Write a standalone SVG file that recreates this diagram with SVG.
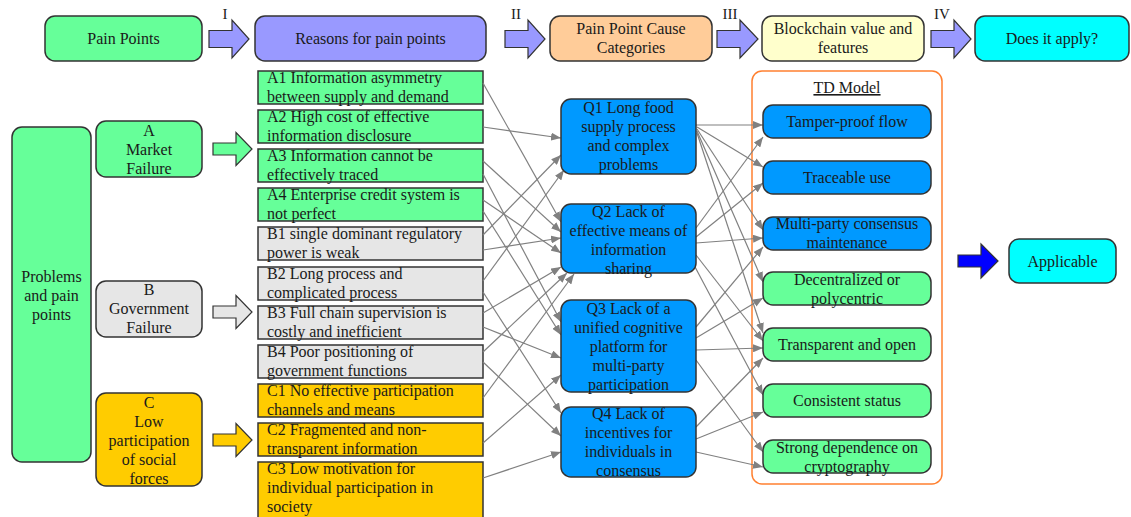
<svg xmlns="http://www.w3.org/2000/svg" width="1131" height="517" viewBox="0 0 1131 517">
<style>
text{font-family:"Liberation Serif","Times New Roman",serif;font-size:16px;fill:#1a1a1a}
.c{text-anchor:middle}
.lbl{font-size:15px}
.box{stroke:#333;stroke-width:1.5}
.g{fill:#66FF99}.gr{fill:#E6E6E6}.y{fill:#FFCC00}.bl{fill:#0099FF}
.fat{stroke:#333;stroke-width:1.2}
.conn path{stroke:#808080;stroke-width:1.2;fill:none;marker-end:url(#ah)}
</style>
<defs>
<marker id="ah" markerWidth="10" markerHeight="8" refX="10" refY="4" orient="auto" markerUnits="userSpaceOnUse"><path d="M0,0 L10,4 L0,8 z" fill="#808080"/></marker>
</defs>
<rect width="1131" height="517" fill="#fff"/>

<!-- top row -->
<g id="top-pain"><rect class="box g" x="45" y="16" width="157" height="45" rx="10"/><text class="c" x="123.5" y="44">Pain Points</text></g>
<g id="arrow-I"><polygon class="fat" fill="#9999FF" points="209,30.5 232,30.5 232,20 249,39 232,58 232,47.5 209,47.5"/><text class="c lbl" x="225" y="19">I</text></g>
<g id="top-reasons"><rect class="box" fill="#9999FF" x="255" y="16" width="231" height="45" rx="10"/><text class="c" x="370.5" y="44">Reasons for pain points</text></g>
<g id="arrow-II"><polygon class="fat" fill="#9999FF" points="505,30.5 528,30.5 528,20 545,39 528,58 528,47.5 505,47.5"/><text class="c lbl" x="516" y="19">II</text></g>
<g id="top-cause"><rect class="box" fill="#FFCC99" x="550" y="16" width="162" height="45" rx="10"/><text class="c" x="631" y="34">Pain Point Cause</text><text class="c" x="631" y="53">Categories</text></g>
<g id="arrow-III"><polygon class="fat" fill="#9999FF" points="717,30.5 740,30.5 740,20 758,39 740,58 740,47.5 717,47.5"/><text class="c lbl" x="730" y="19">III</text></g>
<g id="top-blockchain"><rect class="box" fill="#FFFFCC" x="762" y="16" width="162" height="45" rx="10"/><text class="c" x="843" y="34">Blockchain value and</text><text class="c" x="843" y="53">features</text></g>
<g id="arrow-IV"><polygon class="fat" fill="#9999FF" points="931,30.5 954,30.5 954,20 971,39 954,58 954,47.5 931,47.5"/><text class="c lbl" x="942" y="19">IV</text></g>
<g id="top-apply"><rect class="box" fill="#00FFFF" x="975" y="16" width="154" height="45" rx="10"/><text class="c" x="1052" y="44">Does it apply?</text></g>

<!-- left -->
<g id="problems"><rect class="box g" x="12" y="127" width="79" height="335" rx="10"/><text class="c" x="51.5" y="282">Problems</text><text class="c" x="51.5" y="301">and pain</text><text class="c" x="51.5" y="320">points</text></g>
<g id="A"><rect class="box g" x="96" y="121" width="106" height="56" rx="10"/><text class="c" x="149" y="136">A</text><text class="c" x="149" y="155">Market</text><text class="c" x="149" y="174">Failure</text></g>
<g id="B"><rect class="box gr" x="96" y="281" width="106" height="56" rx="10"/><text class="c" x="149" y="295">B</text><text class="c" x="149" y="314">Government</text><text class="c" x="149" y="333">Failure</text></g>
<g id="C"><rect class="box y" x="96" y="393" width="106" height="93" rx="10"/><text class="c" x="149" y="408">C</text><text class="c" x="149" y="427">Low</text><text class="c" x="149" y="446">participation</text><text class="c" x="149" y="465">of social</text><text class="c" x="149" y="484">forces</text></g>
<g id="arrow-A"><polygon class="fat g" points="213,143 236,143 236,132.5 252,149 236,165.5 236,155 213,155"/></g>
<g id="arrow-B"><polygon class="fat gr" points="213,306 236,306 236,295.5 252,312 236,328.5 236,318 213,318"/></g>
<g id="arrow-C"><polygon class="fat y" points="213,434 236,434 236,423.5 252,440 236,456.5 236,446 213,446"/></g>

<!-- reasons -->
<g id="A1"><rect class="box g" x="258" y="71" width="225" height="33"/><text x="267" y="83">A1 Information asymmetry</text><text x="267" y="102">between supply and demand</text></g>
<g id="A2"><rect class="box g" x="258" y="110" width="225" height="33"/><text x="267" y="122">A2 High cost of effective</text><text x="267" y="141">information disclosure</text></g>
<g id="A3"><rect class="box g" x="258" y="149" width="225" height="33"/><text x="267" y="161">A3 Information cannot be</text><text x="267" y="180">effectively traced</text></g>
<g id="A4"><rect class="box g" x="258" y="188" width="225" height="33"/><text x="267" y="200">A4 Enterprise credit system is</text><text x="267" y="219">not perfect</text></g>
<g id="B1"><rect class="box gr" x="258" y="227" width="225" height="33"/><text x="267" y="239">B1 single dominant regulatory</text><text x="267" y="258">power is weak</text></g>
<g id="B2"><rect class="box gr" x="258" y="267" width="225" height="33"/><text x="267" y="279">B2 Long process and</text><text x="267" y="298">complicated process</text></g>
<g id="B3"><rect class="box gr" x="258" y="306" width="225" height="33"/><text x="267" y="318">B3 Full chain supervision is</text><text x="267" y="337">costly and inefficient</text></g>
<g id="B4"><rect class="box gr" x="258" y="345" width="225" height="33"/><text x="267" y="357">B4 Poor positioning of</text><text x="267" y="376">government functions</text></g>
<g id="C1"><rect class="box y" x="258" y="384" width="225" height="33"/><text x="267" y="396">C1 No effective participation</text><text x="267" y="415">channels and means</text></g>
<g id="C2"><rect class="box y" x="258" y="423" width="225" height="33"/><text x="267" y="435">C2 Fragmented and non-</text><text x="267" y="454">transparent information</text></g>
<g id="C3"><rect class="box y" x="258" y="462" width="225" height="70"/><text x="267" y="474">C3 Low motivation for</text><text x="267" y="493">individual participation in</text><text x="267" y="512">society</text></g>

<!-- TD container -->
<g id="td-model"><rect x="752" y="71" width="190" height="413" rx="10" fill="#fff" stroke="#FF8030" stroke-width="1.5"/><text class="c" x="847" y="93" text-decoration="underline">TD Model</text></g>

<!-- connectors -->
<g id="connectors" class="conn">
<path d="M483,83 L561,222"/>
<path d="M483,127 L561,138"/>
<path d="M483,161 L561,232"/>
<path d="M483,174 L561,322"/>
<path d="M483,200 L561,253"/>
<path d="M483,211 L561,335"/>
<path d="M483,235 L561,155"/>
<path d="M483,250 L561,238"/>
<path d="M483,281 L564,170"/>
<path d="M483,292 L561,413"/>
<path d="M483,313 L561,267"/>
<path d="M483,327 L561,358"/>
<path d="M483,352 L567,273"/>
<path d="M483,362 L561,436"/>
<path d="M483,398 L574,274"/>
<path d="M483,443 L561,375"/>
<path d="M483,478 L561,452"/>
<path d="M696,125 L763,125"/>
<path d="M697,127 L763,167"/>
<path d="M697,129 L763,230"/>
<path d="M697,131 L763,282"/>
<path d="M697,133 L763,333"/>
<path d="M696,228 L763,137"/>
<path d="M696,237 L763,183"/>
<path d="M696,243 L763,238"/>
<path d="M696,255 L763,341"/>
<path d="M694,265 L763,395"/>
<path d="M696,327 L763,247"/>
<path d="M696,338 L763,298"/>
<path d="M696,350 L763,348"/>
<path d="M696,360 L763,452"/>
<path d="M696,427 L763,358"/>
<path d="M696,439 L763,412"/>
<path d="M696,452 L763,467"/>
</g>

<!-- Q boxes -->
<g id="Q1"><rect class="box bl" x="561" y="99" width="135" height="75" rx="10"/><text class="c" x="628.5" y="113">Q1 Long food</text><text class="c" x="628.5" y="132">supply process</text><text class="c" x="628.5" y="151">and complex</text><text class="c" x="628.5" y="170">problems</text></g>
<g id="Q2"><rect class="box bl" x="561" y="204" width="135" height="69" rx="10"/><text class="c" x="628.5" y="217">Q2 Lack of</text><text class="c" x="628.5" y="236">effective means of</text><text class="c" x="628.5" y="255">information</text><text class="c" x="628.5" y="274">sharing</text></g>
<g id="Q3"><rect class="box bl" x="561" y="300" width="135" height="92" rx="10"/><text class="c" x="628.5" y="314">Q3 Lack of a</text><text class="c" x="628.5" y="333">unified cognitive</text><text class="c" x="628.5" y="352">platform for</text><text class="c" x="628.5" y="371">multi-party</text><text class="c" x="628.5" y="390">participation</text></g>
<g id="Q4"><rect class="box bl" x="561" y="407" width="135" height="70" rx="10"/><text class="c" x="628.5" y="419">Q4 Lack of</text><text class="c" x="628.5" y="438">incentives for</text><text class="c" x="628.5" y="457">individuals in</text><text class="c" x="628.5" y="476">consensus</text></g>

<!-- features -->
<g id="f-tamper"><rect class="box bl" x="763" y="105" width="168" height="33" rx="10"/><text class="c" x="847" y="127">Tamper-proof flow</text></g>
<g id="f-trace"><rect class="box bl" x="763" y="161" width="168" height="33" rx="10"/><text class="c" x="847" y="183">Traceable use</text></g>
<g id="f-multi"><rect class="box bl" x="763" y="217" width="168" height="33" rx="10"/><text class="c" x="847" y="229">Multi-party consensus</text><text class="c" x="847" y="248">maintenance</text></g>
<g id="f-decent"><rect class="box g" x="763" y="272" width="168" height="33" rx="10"/><text class="c" x="847" y="285">Decentralized or</text><text class="c" x="847" y="304">polycentric</text></g>
<g id="f-transp"><rect class="box g" x="763" y="328" width="168" height="33" rx="10"/><text class="c" x="847" y="350">Transparent and open</text></g>
<g id="f-consist"><rect class="box g" x="763" y="384" width="168" height="33" rx="10"/><text class="c" x="847" y="406">Consistent status</text></g>
<g id="f-crypto"><rect class="box g" x="763" y="440" width="168" height="33" rx="10"/><text class="c" x="847" y="453">Strong dependence on</text><text class="c" x="847" y="472">cryptography</text></g>

<g id="arrow-result"><polygon class="fat" fill="#0000FF" points="958,255 981,255 981,244 998,261 981,278 981,267 958,267"/></g>
<g id="applicable"><rect class="box" fill="#00FFFF" x="1009" y="239" width="107" height="44" rx="10"/><text class="c" x="1062.5" y="267">Applicable</text></g>
</svg>
